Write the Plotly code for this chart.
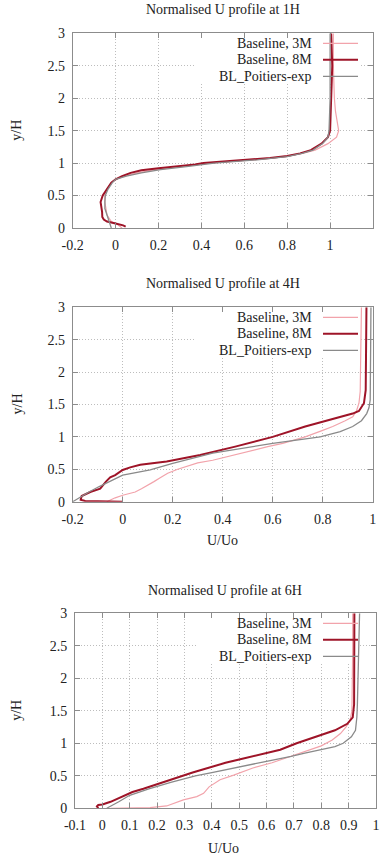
import plotly.graph_objects as go

# ---------------- DATA ----------------
series_names = ["Baseline, 3M", "Baseline, 8M", "BL_Poitiers-exp"]
titles = ["Normalised U profile at 1H", "Normalised U profile at 4H", "Normalised U profile at 6H"]

# Station 1H
y_1h_3m = [0.0, 0.05, 0.1, 0.2, 0.3, 0.4, 0.5, 0.6, 0.7, 0.75, 0.8, 0.85, 0.9, 0.95, 1.0, 1.05, 1.1, 1.15, 1.2, 1.3, 1.4, 1.5, 1.6, 1.8, 2.0, 2.5, 3.0]
u_1h_3m = [0.03, 0.01, -0.02, -0.04, -0.045, -0.05, -0.05, -0.04, -0.02, 0.0, 0.04, 0.1, 0.19, 0.32, 0.44, 0.64, 0.79, 0.87, 0.93, 0.99, 1.03, 1.04, 1.035, 1.025, 1.02, 1.015, 1.015]
y_1h_8m = [0.02, 0.04, 0.07, 0.1, 0.13, 0.17, 0.25, 0.32, 0.4, 0.5, 0.6, 0.7, 0.75, 0.8, 0.85, 0.89, 0.92, 0.95, 0.98, 1.0, 1.03, 1.05, 1.08, 1.11, 1.15, 1.2, 1.3, 1.4, 1.5, 1.7, 2.0, 2.5, 3.0]
u_1h_8m = [0.047, 0.035, 0.0, -0.04, -0.055, -0.062, -0.063, -0.066, -0.07, -0.06, -0.042, -0.02, 0.0, 0.03, 0.07, 0.12, 0.2, 0.3, 0.37, 0.41, 0.54, 0.62, 0.72, 0.8, 0.86, 0.91, 0.96, 0.99, 1.0, 1.002, 1.005, 1.01, 1.005]
y_1h_exp = [0.0, 0.1, 0.2, 0.3, 0.4, 0.5, 0.6, 0.7, 0.75, 0.8, 0.85, 0.9, 0.95, 1.0, 1.05, 1.1, 1.15, 1.2, 1.3, 1.4, 1.5, 2.0, 3.0]
u_1h_exp = [-0.02, -0.03, -0.04, -0.05, -0.05, -0.048, -0.035, -0.015, 0.0, 0.05, 0.12, 0.21, 0.34, 0.46, 0.66, 0.8, 0.87, 0.92, 0.965, 0.99, 0.995, 1.0, 1.0]

# Station 4H
y_4h_3m = [0.0, 0.03, 0.06, 0.1, 0.15, 0.2, 0.25, 0.31, 0.37, 0.44, 0.5, 0.54, 0.6, 0.64, 0.7, 0.8, 0.85, 0.9, 1.0, 1.1, 1.16, 1.25, 1.31, 1.4, 1.52, 1.7, 2.0, 2.5, 3.0]
u_4h_3m = [-0.064, -0.05, -0.03, 0.0, 0.05, 0.075, 0.1, 0.125, 0.15, 0.18, 0.22, 0.256, 0.3, 0.36, 0.42, 0.52, 0.58, 0.64, 0.73, 0.8, 0.84, 0.89, 0.92, 0.935, 0.945, 0.95, 0.952, 0.953, 0.955]
y_4h_8m = [0.0, 0.005, 0.01, 0.03, 0.087, 0.15, 0.2, 0.31, 0.375, 0.41, 0.45, 0.49, 0.53, 0.57, 0.62, 0.72, 0.85, 1.0, 1.16, 1.29, 1.36, 1.4, 1.52, 1.72, 2.0, 2.5, 3.0]
u_4h_8m = [0.0, -0.08, -0.15, -0.168, -0.164, -0.13, -0.09, -0.067, -0.05, -0.03, -0.015, 0.0, 0.03, 0.07, 0.176, 0.31, 0.45, 0.6, 0.73, 0.85, 0.92, 0.945, 0.965, 0.972, 0.973, 0.974, 0.975]
y_4h_exp = [0.0, 0.05, 0.1, 0.15, 0.23, 0.3, 0.41, 0.49, 0.59, 0.75, 0.9, 1.0, 1.08, 1.16, 1.25, 1.36, 1.45, 1.57, 2.0, 2.5, 3.0]
u_4h_exp = [-0.2, -0.18, -0.16, -0.135, -0.096, -0.06, 0.0, 0.11, 0.2, 0.36, 0.6, 0.79, 0.87, 0.92, 0.955, 0.976, 0.985, 0.99, 0.992, 0.992, 0.993]

# Station 6H
y_6h_3m = [0.0, 0.005, 0.01, 0.036, 0.13, 0.18, 0.23, 0.33, 0.44, 0.51, 0.62, 0.7, 0.82, 0.96, 1.05, 1.15, 1.25, 1.35, 1.5, 2.0, 2.5, 3.0]
u_6h_3m = [0.03, 0.1, 0.174, 0.235, 0.296, 0.345, 0.37, 0.39, 0.43, 0.48, 0.55, 0.62, 0.7, 0.8, 0.84, 0.87, 0.89, 0.905, 0.912, 0.914, 0.915, 0.915]
y_6h_8m = [0.0, 0.03, 0.05, 0.06, 0.1, 0.2, 0.25, 0.3, 0.4, 0.5, 0.55, 0.6, 0.7, 0.75, 0.8, 0.85, 0.9, 1.0, 1.1, 1.2, 1.3, 1.4, 1.6, 2.0, 2.5, 3.0]
u_6h_8m = [-0.015, -0.02, -0.015, 0.0, 0.03, 0.08, 0.11, 0.15, 0.22, 0.29, 0.33, 0.37, 0.45, 0.5, 0.55, 0.6, 0.65, 0.71, 0.78, 0.85, 0.895, 0.915, 0.92, 0.92, 0.92, 0.921]
y_6h_exp = [0.0, 0.05, 0.1, 0.2, 0.3, 0.4, 0.5, 0.55, 0.6, 0.65, 0.7, 0.75, 0.8, 0.85, 0.9, 0.95, 1.0, 1.1, 1.2, 1.4, 1.6, 2.0, 2.5, 3.0]
u_6h_exp = [0.016, 0.04, 0.06, 0.1, 0.17, 0.25, 0.34, 0.4, 0.46, 0.52, 0.58, 0.64, 0.69, 0.74, 0.8, 0.85, 0.88, 0.91, 0.925, 0.93, 0.932, 0.935, 0.937, 0.94]

# Tick labels (the 1.2 label of the first panel is cut off by the page edge in the original)
x_ticks_1h = [-0.2, 0.0, 0.2, 0.4, 0.6, 0.8, 1.0]
x_labels_1h = ["-0.2", "0", "0.2", "0.4", "0.6", "0.8", "1"]
x_ticks_4h = [-0.2, 0.0, 0.2, 0.4, 0.6, 0.8, 1.0]
x_labels_4h = ["-0.2", "0", "0.2", "0.4", "0.6", "0.8", "1"]
x_ticks_6h = [-0.1, 0.0, 0.1, 0.2, 0.3, 0.4, 0.5, 0.6, 0.7, 0.8, 0.9, 1.0]
x_labels_6h = ["-0.1", "0", "0.1", "0.2", "0.3", "0.4", "0.5", "0.6", "0.7", "0.8", "0.9", "1"]
y_ticks = [0, 0.5, 1, 1.5, 2, 2.5, 3]
y_labels = ["0", "0.5", "1", "1.5", "2", "2.5", "3"]
x_title = "U/Uo"
y_title = "y/H"

# ---------------- STYLE ----------------
W, H = 380, 860
FONT = "Liberation Serif"
TXT = "#222222"
colors = ["#f2a3ab", "#9e1428", "#8a8a8a"]
widths = [1.2, 2.0, 1.3]
AX = "#8c8c8c"

def px(x):
    return x / W

def py(y):
    return 1 - y / H

# plot rectangles in pixels: (left, right, top, bottom)
rects = [(72.7, 373.0, 33.3, 228.0), (72.7, 372.7, 307.3, 501.7), (75.0, 376.0, 613.3, 808.3)]
xranges = [[-0.2, 1.2], [-0.2, 1.0], [-0.1, 1.0]]
yrange = [0, 3]
xticks = [(x_ticks_1h, x_labels_1h), (x_ticks_4h, x_labels_4h), (x_ticks_6h, x_labels_6h)]
data = [
    [(u_1h_3m, y_1h_3m), (u_1h_8m, y_1h_8m), (u_1h_exp, y_1h_exp)],
    [(u_4h_3m, y_4h_3m), (u_4h_8m, y_4h_8m), (u_4h_exp, y_4h_exp)],
    [(u_6h_3m, y_6h_3m), (u_6h_8m, y_6h_8m), (u_6h_exp, y_6h_exp)],
]
title_pos = [(222.5, 9.5), (222.5, 283.0), (225.0, 590.7)]
xtitle_pos = [None, (222.0, 540.7), (224.0, 848.0)]

fig = go.Figure()
layout = dict(width=W, height=H, autosize=False, margin=dict(l=0, r=0, t=0, b=0, pad=0),
              paper_bgcolor="white", plot_bgcolor="white", showlegend=False,
              font=dict(family=FONT, size=14, color=TXT))
annotations = []
shapes = []

for i in range(3):
    l, r, t, b = rects[i]
    sfx = "" if i == 0 else str(i + 1)
    xa, ya = "x" + sfx, "y" + sfx
    x0r, x1r = xranges[i]

    def dx(p):
        return x0r + (p - l) / (r - l) * (x1r - x0r)

    def dy(p):
        return yrange[1] - (p - t) / (b - t) * (yrange[1] - yrange[0])

    for k in range(3):
        u, y = data[i][k]
        fig.add_trace(go.Scatter(x=u, y=y, mode="lines", name=series_names[k],
                                 line=dict(color=colors[k], width=widths[k]),
                                 xaxis=xa, yaxis=ya, hoverinfo="skip"))
    common = dict(showline=True, linecolor=AX, linewidth=1, mirror="allticks",
                  ticks="inside", ticklen=5, tickcolor=AX, tickwidth=1,
                  showgrid=True, gridcolor="#bdbdbd", griddash="1px,2px", gridwidth=1,
                  zeroline=False, tickfont=dict(family=FONT, size=14, color=TXT),
                  fixedrange=True, automargin=False)
    layout["xaxis" + sfx] = dict(common, domain=[px(l), px(r)], range=xranges[i],
                                 tickmode="array", tickvals=xticks[i][0], ticktext=xticks[i][1],
                                 anchor=ya, ticklabelstandoff=4)
    layout["yaxis" + sfx] = dict(common, domain=[py(b), py(t)], range=yrange,
                                 tickmode="array", tickvals=y_ticks, ticktext=y_labels,
                                 anchor=xa, ticklabelstandoff=4)
    # key background (opaque, above grid, below traces)
    shapes.append(dict(type="rect", xref=xa, yref=ya,
                       x0=dx(196), x1=dx(360), y0=dy(t + 49), y1=dy(t + 1),
                       fillcolor="white", line=dict(width=0), layer="between"))
    # key entries
    for k in range(3):
        yp = t + 10 + 16.5 * k
        annotations.append(dict(text=series_names[k], xref=xa, yref=ya,
                                x=dx(313.5), y=dy(yp), xanchor="right", yanchor="middle",
                                showarrow=False, font=dict(family=FONT, size=14, color=TXT)))
        shapes.append(dict(type="line", xref=xa, yref=ya,
                           x0=dx(323), x1=dx(358), y0=dy(yp), y1=dy(yp),
                           line=dict(color=colors[k], width=widths[k]), layer="above"))
    # titles
    annotations.append(dict(text=titles[i], xref="paper", yref="paper",
                            x=px(title_pos[i][0]), y=py(title_pos[i][1]),
                            xanchor="center", yanchor="middle", showarrow=False,
                            font=dict(family=FONT, size=14, color=TXT)))
    annotations.append(dict(text=y_title, xref="paper", yref="paper",
                            x=px(17), y=py((t + b) / 2), textangle=-90,
                            xanchor="center", yanchor="middle", showarrow=False,
                            font=dict(family=FONT, size=14, color=TXT)))
    if xtitle_pos[i] is not None:
        annotations.append(dict(text=x_title, xref="paper", yref="paper",
                                x=px(xtitle_pos[i][0]), y=py(xtitle_pos[i][1]),
                                xanchor="center", yanchor="middle", showarrow=False,
                                font=dict(family=FONT, size=14, color=TXT)))

layout["annotations"] = annotations
layout["shapes"] = shapes
fig.update_layout(**layout)
fig.write_html("out.html")
